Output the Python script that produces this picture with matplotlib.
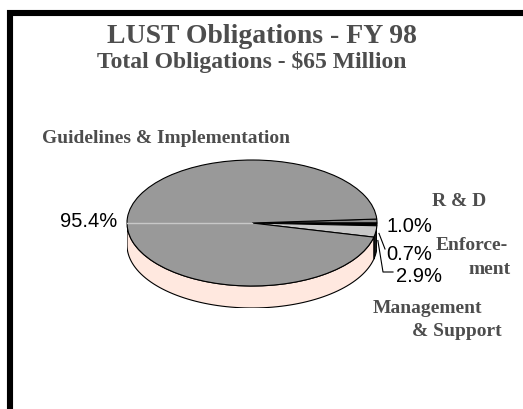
import numpy as np
import matplotlib
matplotlib.use("Agg")
from matplotlib import pyplot as plt
from matplotlib.patches import Polygon

# slices, clockwise from just above the 3 o'clock position
categories = ['R & D', 'Enforcement', 'Management & Support', 'Guidelines & Implementation']
values = [1.0, 0.7, 2.9, 95.4]
pct_labels = ['1.0%', '0.7%', '2.9%', '95.4%']
top_colors = ['#8c8c8c', '#000000', '#c8c8c8', '#999999']
side_colors = ['#333333', '#000000', '#1a1a1a', '#ffe8df']

title = 'LUST Obligations - FY 98'
subtitle = 'Total Obligations - $65 Million'

W, H = 523, 409
fig = plt.figure(figsize=(W / 100, H / 100), dpi=100)
ax = fig.add_axes([0, 0, 1, 1])
ax.set_xlim(0, W)
ax.set_ylim(H, 0)
ax.axis('off')

# frame (only top and left edges are inside the picture)
ax.plot([10, 10, W + 10], [H + 10, 13, 13], color='black', lw=4.4,
         solid_joinstyle='miter', solid_capstyle='butt')

gray = '#4d4d4d'
serif = 'Liberation Serif'
sans = 'Liberation Sans'
ax.text(262, 43, title, ha='center', va='baseline', fontsize=20,
        fontweight='bold', family=serif, color=gray)
ax.text(252, 68, subtitle, ha='center', va='baseline', fontsize=17,
        fontweight='bold', family=serif, color=gray)

# pie geometry in pixels
cx, cy, rx, ry, depth = 252, 223, 125, 63, 22
d = depth / ry

pax = fig.add_axes([(cx - rx) / W, (H - (cy + ry + depth)) / H,
                    2 * rx / W, (2 * ry + depth) / H])
total = sum(values)
start = 360 * values[0] / total
pax.pie(values, colors=top_colors, startangle=start, counterclock=False,
        radius=1, wedgeprops=dict(edgecolor='black', linewidth=0.8))
pax.set_aspect('auto')
pax.set_xlim(-1, 1)
pax.set_ylim(-1 - d, 1)
pax.axis('off')

# side walls for the front half
bounds = start - 360 * np.concatenate([[0], np.cumsum(values)]) / total
for i in range(len(values)):
    a1, a2 = bounds[i + 1], bounds[i]
    lo, hi = max(a1, -180), min(a2, 0)
    if lo >= hi:
        continue
    t = np.radians(np.linspace(lo, hi, 80))
    xs = np.cos(t)
    ys = np.sin(t)
    pts = np.column_stack([np.concatenate([xs, xs[::-1]]),
                           np.concatenate([ys, ys[::-1] - d])])
    pax.add_patch(Polygon(pts, closed=True, facecolor=side_colors[i],
                          edgecolor='black', lw=0.8, zorder=0))
pax.plot([-1, 0], [0, 0], color='#c8c8c8', lw=1, zorder=5)

# percentage labels
pk = dict(va='baseline', fontsize=14.5, family=sans, color='black')
ax.text(117, 227, pct_labels[3], ha='right', **pk)
ax.text(386, 232, pct_labels[0], ha='left', **pk)
ax.text(386, 260, pct_labels[1], ha='left', **pk)
ax.text(396, 282, pct_labels[2], ha='left', **pk)

# leader lines from the small slices
mids = (bounds[:-1] + bounds[1:]) / 2
ex = cx + rx * np.cos(np.radians(mids))
ey = cy - ry * np.sin(np.radians(mids))
ax.plot([ex[1] + 2, 385], [ey[1] + 9, 249], color='black', lw=0.8)
ax.plot([ex[2] + 2, 383, 393], [ey[2] + 9, 272, 272], color='black', lw=0.8)

# category labels
kw = dict(fontweight='bold', family=serif, color=gray, fontsize=14, va='baseline')
ax.text(42, 143, categories[3], ha='left', **kw)
ax.text(432, 206, categories[0], ha='left', **kw)
ax.text(436, 250, 'Enforce-', ha='left', **kw)
ax.text(511, 274, 'ment', ha='right', **kw)
ax.text(373, 313, 'Management', ha='left', **kw)
ax.text(412, 336, '& Support', ha='left', **kw)

fig.savefig('out.png', dpi=100)
